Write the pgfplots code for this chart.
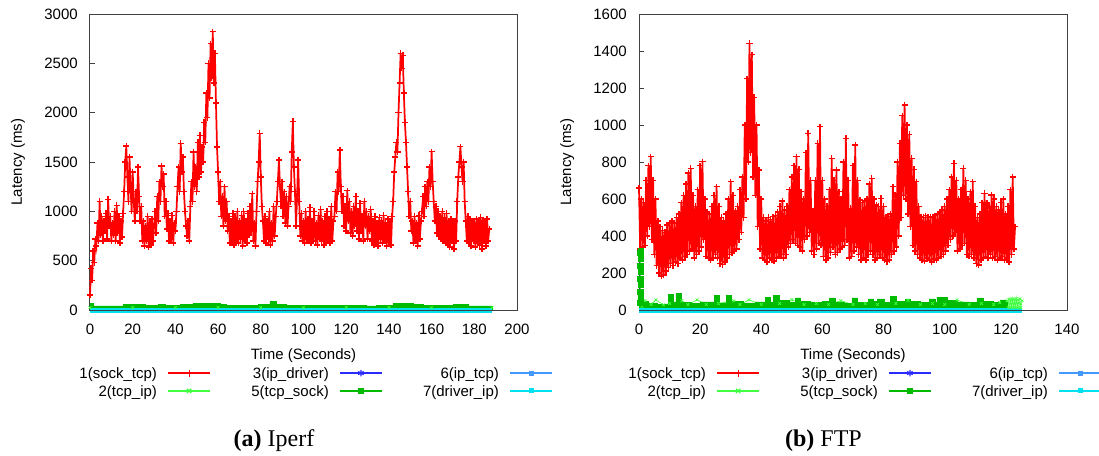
\documentclass[border=0pt]{standalone}
\usepackage{pgfplots}
\usepackage{pgfplotstable}
\pgfplotsset{compat=1.18}
\usepackage{fontspec}
\setmainfont{Liberation Sans}
\newfontfamily\capserif{Liberation Serif}
\definecolor{serA}{HTML}{FF0000}
\definecolor{serB}{HTML}{40FF40}
\definecolor{serC}{HTML}{2B2BFF}
\definecolor{serE}{HTML}{00BB00}
\definecolor{serF}{HTML}{4499FF}
\definecolor{serG}{HTML}{00E1F0}
\pgfplotsset{
 lat/.style={
  scale only axis, clip=false,
  height=222pt, ymin=0, xmin=0,
  tick align=inside, ytick pos=left, xtick pos=bottom,
  major tick length=3.75pt,
  ytick style={color=black!75, line width=0.6pt},
  xtick style={draw=none},
  axis line style={color=black!75, line width=0.75pt},
  /pgf/number format/assume math mode=true,
  /pgf/number format/set thousands separator={},
  scaled ticks=false,
  ticklabel style={font=\fontsize{11.25}{13.5}\selectfont},
  yticklabel style={anchor=east, inner sep=0pt, xshift=-9pt},
  xticklabel style={anchor=north, inner sep=0pt, yshift=-10.5pt},
  xlabel={Time (Seconds)}, ylabel={Latency (ms)},
  every axis x label/.style={at={(axis description cs:0.5,0)}, anchor=base, yshift=-37pt, inner sep=0pt},
  legend columns=3,
  legend plot pos=right,
  legend cell align=right,
  legend image code/.code={\draw[mark repeat=2,mark phase=2,#1] plot coordinates {(0pt,0pt) (15.65pt,0pt) (31.3pt,0pt)};},
  legend style={at={(axis description cs:0,0)}, anchor=north west, xshift=-8.1pt, yshift=-43pt,
    draw=none, fill=none, inner sep=0pt, row sep=5.2pt,
    font=\fontsize{11.25}{13.5}\selectfont,
    nodes={inner sep=0pt, text height=8.2pt, text depth=0pt},
    /tikz/every odd column/.append style={column sep=8pt},
    /tikz/every even column/.append style={column sep=30.5pt}},
 },
 redline/.style={color=serA, line width=1.3pt, no marks},
 redmarks/.style={color=serA, only marks, mark=+, mark size=2.3pt, mark options={color=serA, line width=1.1pt}},
}
\newcommand{\legs}{%
  \addlegendimage{color=serA, line width=0.9pt, mark=+, mark size=2.6pt}\addlegendentry{1(sock\_tcp)}
  \addlegendimage{color=serC, line width=0.9pt, mark=asterisk, mark size=2.4pt}\addlegendentry{3(ip\_driver)}
  \addlegendimage{color=serF, line width=0.9pt, mark=square, mark size=1.4pt}\addlegendentry{6(ip\_tcp)}
  \addlegendimage{color=serB, line width=0.9pt, mark=x, mark size=2.3pt}\addlegendentry{2(tcp\_ip)}
  \addlegendimage{color=serE, line width=0.9pt, mark=square*, mark size=1.9pt}\addlegendentry{5(tcp\_sock)}
  \addlegendimage{color=serG, line width=0.9pt, mark=square*, mark size=1.4pt}\addlegendentry{7(driver\_ip)}
}
\pgfplotstableread[row sep=\\, header=false]{
150\\420\\300\\600\\480\\720\\650\\880\\700\\1100\\
760\\950\\700\\900\\800\\980\\720\\1120\\850\\950\\
700\\880\\760\\1000\\700\\1060\\780\\950\\680\\900\\
740\\980\\1200\\1500\\1660\\1350\\1100\\1550\\1250\\1000\\
1400\\1100\\900\\1200\\1000\\1450\\1150\\900\\1050\\700\\
900\\650\\850\\700\\950\\640\\880\\660\\920\\700\\
850\\1000\\780\\1150\\900\\1300\\1100\\1460\\1250\\1380\\
950\\1100\\820\\980\\700\\900\\720\\960\\680\\880\\
800\\1000\\1250\\1450\\1200\\1690\\1400\\1550\\1200\\1000\\
850\\750\\900\\700\\1050\\1300\\1100\\1600\\1250\\1450\\
1200\\1700\\1350\\1770\\1400\\1650\\1500\\1900\\1700\\2200\\
1950\\2500\\2150\\2700\\2350\\2820\\2300\\2600\\2100\\1650\\
1400\\1100\\1300\\950\\1150\\850\\1250\\900\\1100\\800\\
950\\680\\900\\720\\980\\660\\940\\700\\1000\\680\\
900\\720\\960\\650\\1000\\700\\900\\680\\980\\760\\
1050\\800\\1180\\700\\880\\650\\1000\\1300\\1500\\1790\\
1350\\1050\\900\\700\\950\\680\\900\\720\\1000\\660\\
880\\700\\1050\\750\\950\\1100\\1300\\1520\\1250\\1050\\
1300\\950\\1200\\880\\1150\\850\\1050\\1250\\1100\\1600\\
1910\\1450\\1200\\850\\1150\\1520\\1100\\750\\980\\700\\
900\\680\\1000\\720\\920\\700\\1040\\680\\900\\740\\
1000\\700\\880\\660\\960\\720\\1020\\700\\900\\660\\
950\\700\\1000\\740\\920\\680\\1050\\700\\900\\950\\
1200\\1000\\1400\\1200\\1620\\1250\\1000\\1150\\850\\1050\\
800\\1210\\900\\1100\\780\\1000\\750\\1050\\850\\1150\\
800\\1000\\720\\1080\\800\\950\\700\\1100\\850\\1000\\
720\\950\\800\\1020\\700\\900\\660\\950\\700\\880\\
650\\940\\720\\900\\680\\960\\700\\880\\650\\920\\
700\\900\\660\\950\\1100\\1400\\1550\\1700\\1600\\2000\\
2300\\2600\\2450\\2580\\2200\\1900\\1700\\1450\\1200\\950\\
1100\\800\\900\\680\\950\\700\\880\\650\\960\\720\\
900\\1000\\1150\\950\\1250\\1050\\1300\\1100\\1450\\1250\\
1605\\1300\\1100\\900\\1050\\780\\1000\\750\\950\\720\\
1000\\700\\940\\680\\980\\660\\900\\640\\920\\700\\
880\\620\\900\\700\\1100\\1350\\1500\\1655\\1450\\1300\\
1500\\1100\\900\\700\\950\\680\\920\\650\\900\\700\\
880\\640\\920\\680\\900\\660\\940\\620\\900\\700\\
880\\650\\920\\700\\820\\
}\iperfsock
\pgfplotstableread[row sep=\\, header=false]{
660\\330\\600\\340\\580\\350\\700\\400\\780\\450\\
829\\380\\700\\300\\600\\240\\480\\200\\450\\185\\
430\\190\\420\\210\\460\\230\\470\\250\\480\\240\\
470\\260\\500\\250\\520\\280\\580\\270\\620\\290\\
680\\300\\740\\320\\766\\330\\620\\280\\560\\300\\
650\\320\\780\\340\\802\\380\\600\\290\\530\\280\\
520\\270\\560\\280\\620\\300\\667\\280\\560\\250\\
500\\245\\480\\260\\520\\280\\600\\300\\694\\310\\
620\\320\\535\\330\\560\\380\\650\\420\\720\\500\\
1000\\600\\1250\\800\\1441\\850\\1380\\720\\1150\\620\\
1000\\450\\757\\330\\600\\280\\500\\270\\480\\260\\
500\\280\\490\\270\\504\\265\\510\\280\\530\\290\\
560\\300\\590\\280\\540\\300\\560\\340\\650\\360\\
720\\380\\780\\360\\829\\350\\760\\340\\640\\320\\
600\\380\\850\\400\\955\\420\\700\\320\\535\\300\\
700\\330\\900\\360\\991\\350\\700\\290\\600\\270\\
560\\280\\650\\310\\820\\340\\700\\300\\757\\310\\
640\\330\\600\\340\\800\\350\\928\\380\\700\\280\\
550\\290\\780\\320\\892\\340\\700\\300\\595\\270\\
580\\280\\590\\270\\600\\300\\680\\320\\712\\300\\
600\\270\\568\\280\\560\\300\\604\\280\\560\\270\\
500\\261\\504\\270\\520\\300\\667\\320\\620\\340\\
800\\400\\900\\500\\1050\\620\\1108\\600\\1000\\520\\
950\\450\\820\\350\\760\\320\\694\\300\\560\\280\\
504\\270\\500\\265\\510\\280\\500\\270\\504\\260\\
500\\275\\510\\270\\520\\280\\530\\290\\540\\300\\
560\\320\\600\\350\\650\\380\\720\\400\\793\\420\\
700\\320\\600\\330\\650\\350\\766\\360\\700\\300\\
600\\290\\640\\300\\694\\280\\560\\250\\500\\243\\
520\\270\\580\\280\\630\\290\\580\\280\\560\\300\\
622\\280\\600\\290\\560\\270\\540\\280\\580\\290\\
600\\270\\520\\280\\560\\260\\650\\300\\720\\330\\
450\\
}\ftpsock
\begin{document}
\begin{tikzpicture}[font=\fontsize{11.25}{13.5}\selectfont]
\useasboundingbox (0,0) rectangle (824.25pt,341.25pt);
% ---------------- (a) Iperf ----------------
\begin{axis}[lat, at={(67.5pt,108.75pt)}, anchor=south west, width=320.25pt,
  xmax=200, ymax=3000, xtick={0,20,...,200}, ytick={0,500,...,3000},
  every axis y label/.style={at={(axis description cs:-0.1686,0.5)}, rotate=90, anchor=center}]
\legs
\addplot[redline, forget plot] table[x expr=\coordindex*0.5, y index=0] {\iperfsock};
\addplot[redmarks, forget plot] table[x expr=\coordindex*0.5, y index=0] {\iperfsock};
\addplot[color=serB, line width=0.5pt, mark=x, mark size=1.5pt, forget plot] coordinates {
(0,25)(20,24)(40,26)(60,25)(80,24)(100,25)(120,26)(140,25)(160,24)(188.3,25)};
\addplot[color=serC, line width=0.5pt, forget plot] coordinates {(0,0)(100,0)(188.3,0)};
\addplot[color=serE, fill=serE, const plot, line width=0.4pt, forget plot] coordinates {
(0,68)(1.5,41)(15.6,54)(25.8,44)(32,57)(35.1,44)(42.2,55)(48.4,66)(60.9,54)(64,44)
(78.9,54)(84.3,88)(87.1,54)(92.1,44)(101.5,50)(115.5,47)(129.6,41)(134.3,44)(142,64)
(151.4,54)(156,47)(163.9,44)(170.1,55)(177.1,41)(188.3,41)} \closedcycle;
\addplot[color=serF, line width=0.5pt, forget plot] coordinates {(0,0)(100,0)(188.3,0)};
\addplot[color=serG, line width=3.75pt, forget plot] coordinates {(0,0)(50,0)(100,0)(150,0)(188.3,0)};
\draw[black!75, line width=0.75pt] (rel axis cs:0,0) -- (rel axis cs:1,0);
\end{axis}
% ---------------- (b) FTP ----------------
\begin{axis}[lat, at={(479.25pt,108.75pt)}, anchor=south west, width=321pt,
  xmax=140, ymax=1600, xtick={0,20,...,140}, ytick={0,200,...,1600},
  every axis y label/.style={at={(axis description cs:-0.1675,0.5)}, rotate=90, anchor=center}]
\legs
\addplot[redline, forget plot] table[x expr=\coordindex*0.3844, y index=0] {\ftpsock};
\addplot[redmarks, forget plot] table[x expr=\coordindex*0.3844, y index=0] {\ftpsock};
\addplot[color=serB, line width=0.5pt, mark=x, mark size=1.5pt, forget plot] coordinates {
(0,55)(1,20)(2,50)(4,30)(5.5,55)(8,28)(10,35)(14,50)(16,30)(19,55)(22,30)(26,35)
(31,50)(33,30)(36,55)(40,30)(46,35)(50,55)(54,30)(58,35)(62,30)(66,50)(70,30)(74,35)
(78,30)(84,35)(88,52)(92,30)(96,35)(100,30)(104,54)(108,30)(112,35)(116,30)(118,40)
(120.4,50)(120.7,15)(121,58)(121.3,12)(121.6,55)(121.9,15)(122.2,60)(122.5,12)
(122.8,55)(123.1,15)(123.4,62)(123.7,12)(124,55)(124.3,15)(124.6,60)(124.9,12)(125.3,50)};
\addplot[color=serC, line width=0.5pt, forget plot] coordinates {(0,0)(60,0)(125.3,0)};
\addplot[color=serE, fill=serE, const plot, line width=0.4pt, forget plot] coordinates {
(0,45)(3,38)(6,32)(9.7,85)(11.2,40)(12.1,90)(13.7,42)(17,36)(20,44)(24.7,80)(26.3,38)
(28.5,80)(30.1,45)(34,38)(38,44)(41.3,70)(42.9,40)(44,80)(45.9,50)(49,42)(51.2,65)
(52.7,45)(56,40)(60,46)(62.3,65)(64.1,40)(67,35)(69.6,65)(71.5,40)(75.1,60)(76.7,45)
(78,60)(80.2,42)(82.2,75)(84.1,48)(87.1,60)(88.7,45)(92,40)(94.9,60)(96.9,42)
(97.4,70)(100.7,50)(104,44)(108,40)(110.5,65)(112.5,45)(116,42)(118.2,55)(119.8,40)(120.4,40)} \closedcycle;
\addplot[color=serE, line width=0.5pt, mark=square*, mark size=2pt, forget plot] coordinates {
(0.4,40)(0.5,70)(0.4,100)(0.5,135)(0.4,170)(0.5,205)(0.4,240)(0.5,275)(0.4,310)(0.6,320)};
\addplot[color=serF, line width=0.5pt, forget plot] coordinates {(0,0)(60,0)(125.3,0)};
\addplot[color=serG, line width=3.75pt, forget plot] coordinates {(0,0)(40,0)(80,0)(125.3,0)};
\draw[black!75, line width=0.75pt] (rel axis cs:0,0) -- (rel axis cs:1,0);
\end{axis}
\node[anchor=base, font=\fontsize{18}{21}\selectfont\capserif] at (205.5pt,6.2pt) {\textbf{(a)} Iperf};
\node[anchor=base, font=\fontsize{18}{21}\selectfont\capserif] at (617.6pt,6.2pt) {\textbf{(b)} FTP};
\end{tikzpicture}
\end{document}
